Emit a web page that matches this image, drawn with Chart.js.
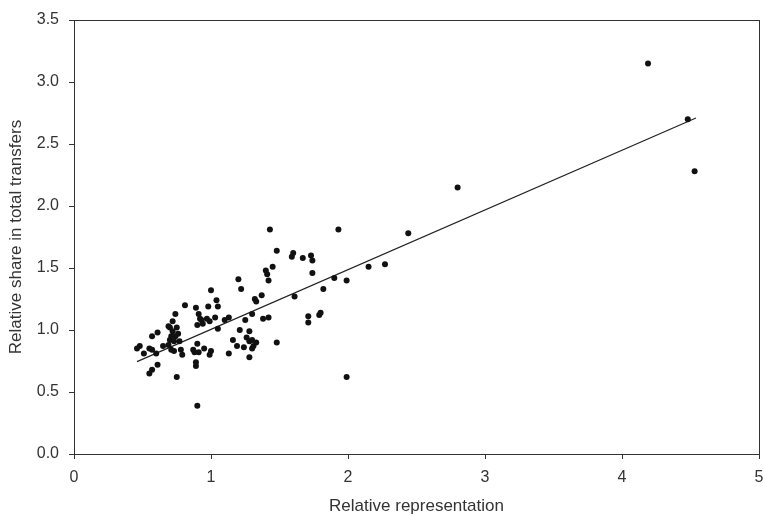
<!DOCTYPE html>
<html><head><meta charset="utf-8">
<script src="https://cdn.jsdelivr.net/npm/chart.js@4"></script>
<style>html,body{margin:0;padding:0;background:#fff}</style>
</head><body>
<canvas id="c" width="764" height="517"></canvas>
<script>
const xValues = [0.46,0.48,0.51,0.55,0.57,0.60,0.57,0.61,0.65,0.61,0.57,0.55,0.69,0.72,0.70,0.75,0.72,0.76,0.71,0.74,0.70,0.73,0.77,0.71,0.73,0.79,0.75,0.74,0.81,0.69,0.78,
 0.87,0.88,0.91,0.90,0.95,1.00,0.99,0.89,0.89,0.90,0.91,0.92,0.93,0.94,0.90,0.97,0.99,1.03,1.05,1.10,1.13,0.89,0.98,1.04,1.05,1.00,
 1.13,1.16,1.19,1.24,1.21,1.28,1.26,1.28,1.30,1.33,1.31,1.30,1.48,1.28,1.25,1.30,1.38,1.42,1.20,1.22,1.32,1.33,1.37,1.40,1.41,1.42,1.45,1.43,1.48,
 1.60,1.59,1.67,1.73,1.74,1.74,1.61,1.71,1.71,1.79,1.80,1.82,1.90,1.99,1.93,1.99,2.15,2.27,2.44,2.80,4.19,4.48,4.53];
const yValues = [0.85,0.87,0.81,0.85,0.84,0.81,0.95,0.98,0.87,0.72,0.68,0.65,1.03,1.07,1.02,1.02,0.99,0.97,0.95,0.95,0.92,0.91,0.91,0.84,0.83,0.80,0.62,1.13,1.20,0.88,0.84,
 0.84,0.82,0.82,0.89,0.85,0.83,0.80,0.74,0.71,0.39,1.13,1.09,1.08,1.05,1.04,1.09,1.07,1.10,1.01,1.08,1.10,1.18,1.19,1.24,1.19,1.32,
 0.81,0.92,0.87,0.86,1.00,0.99,0.94,0.91,0.92,0.90,0.87,0.85,0.90,0.78,1.08,1.13,1.09,1.10,1.41,1.33,1.25,1.23,1.28,1.48,1.45,1.40,1.51,1.81,1.64,
 1.62,1.59,1.58,1.60,1.56,1.46,1.27,1.11,1.06,1.12,1.14,1.33,1.42,1.40,1.81,0.62,1.51,1.53,1.78,2.15,3.15,2.70,2.28];
const trendX = [0.46, 4.54];
const trendY = [0.745, 2.71];
const xTicks = [0, 1, 2, 3, 4, 5];
const yTicks = [0, 0.5, 1.0, 1.5, 2.0, 2.5, 3.0, 3.5];
const xTitle = 'Relative representation';
const yTitle = 'Relative share in total transfers';

const ink = '#333333';
const frame = {
  id: 'frame',
  afterDraw(chart) {
    const a = chart.chartArea, ctx = chart.ctx;
    ctx.save();
    ctx.strokeStyle = ink; ctx.lineWidth = 1;
    ctx.strokeRect(Math.round(a.left) + 0.5, Math.round(a.top) + 0.5, Math.round(a.right - a.left), Math.round(a.bottom - a.top));
    ctx.restore();
  }
};

new Chart(document.getElementById('c'), {
  data: {
    datasets: [
      { type: 'scatter', data: xValues.map((x, i) => ({x, y: yValues[i]})),
        pointRadius: 3, pointHoverRadius: 3, backgroundColor: '#111', borderColor: '#111', borderWidth: 0 },
      { type: 'line', data: trendX.map((x, i) => ({x, y: trendY[i]})),
        borderColor: '#222', borderWidth: 1.2, pointRadius: 0, fill: false, tension: 0 }
    ]
  },
  options: {
    responsive: false, animation: false, devicePixelRatio: 1,
    layout: { padding: { top: 20, right: 0, left: 0, bottom: 0 } },
    plugins: { legend: { display: false }, tooltip: { enabled: false } },
    scales: {
      x: {
        type: 'linear', min: 0, max: 5,
        afterFit(s) { s.height = 63; s.paddingRight = 5; s.paddingLeft = 0; },
        afterBuildTicks(s) { s.ticks = xTicks.map(v => ({value: v})); },
        ticks: { color: ink, padding: 9, font: { family: 'Liberation Sans', size: 16 }, callback: v => String(v) },
        grid: { display: true, drawOnChartArea: false, drawTicks: true, tickLength: 5, color: ink },
        border: { display: true, color: ink },
        title: { display: true, text: xTitle, color: ink, font: { family: 'Liberation Sans', size: 17, lineHeight: 1.2 }, padding: { top: 0, bottom: 0 } }
      },
      y: {
        type: 'linear', min: 0, max: 3.5,
        afterFit(s) { s.width = 74; s.paddingTop = 0; s.paddingBottom = 0; },
        afterBuildTicks(s) { s.ticks = yTicks.map(v => ({value: v})); },
        ticks: { color: ink, padding: 10, font: { family: 'Liberation Sans', size: 16 }, callback: v => Number(v).toFixed(1) },
        grid: { display: true, drawOnChartArea: false, drawTicks: true, tickLength: 5, color: ink },
        border: { display: true, color: ink },
        title: { display: true, text: yTitle, color: ink, font: { family: 'Liberation Sans', size: 17, lineHeight: 1.2 }, padding: { top: 6, bottom: 0 } }
      }
    }
  },
  plugins: [frame]
});
</script>
</body></html>
